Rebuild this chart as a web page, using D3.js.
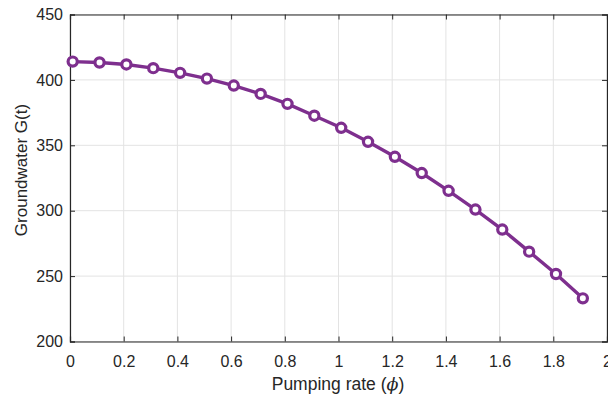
<!DOCTYPE html>
<html><head><meta charset="utf-8">
<script src="https://cdn.jsdelivr.net/npm/d3@7"></script>
<style>body{margin:0;background:#fff;}svg{display:block;font-family:"Liberation Sans",Arial,sans-serif;}</style>
</head><body><svg id="c" width="608" height="398"></svg>
<script>
const pumpRate = [0.01,0.11,0.21,0.31,0.41,0.51,0.61,0.71,0.81,0.91,1.01,1.11,1.21,1.31,1.41,1.51,1.61,1.71,1.81,1.91];
const groundwater = [414,413.3,411.8,409,405.4,401,395.7,389.3,381.7,372.6,363.4,352.7,341.2,328.8,315.2,300.9,285.6,268.7,251.6,233];
const xTicks = [0,0.2,0.4,0.6,0.8,1,1.2,1.4,1.6,1.8,2];
const yTicks = [200,250,300,350,400,450];

const svg = d3.select("#c");
const L=70, R=607, T=14.5, B=341.5;
const x = d3.scaleLinear().domain([0,2]).range([L,R]);
const y = d3.scaleLinear().domain([200,450]).range([B,T]);
const grid = svg.append("g");
grid.selectAll(".gx").data(xTicks).enter().append("line")
  .attr("x1",d=>x(d)).attr("x2",d=>x(d)).attr("y1",T).attr("y2",B)
  .attr("stroke","#e3e3e3").attr("stroke-width",1);
grid.selectAll(".gy").data(yTicks).enter().append("line")
  .attr("y1",d=>y(d)).attr("y2",d=>y(d)).attr("x1",L).attr("x2",R)
  .attr("stroke","#e3e3e3").attr("stroke-width",1);

const tickFont = g => g.selectAll("text").attr("font-size",16).attr("fill","#262626").attr("font-family","Liberation Sans, Arial, sans-serif");
const xAx = svg.append("g").attr("transform",`translate(0,${B})`)
  .call(d3.axisBottom(x).tickValues(xTicks).tickSize(-5).tickPadding(14).tickFormat(d3.format("~g")));
xAx.call(tickFont);
svg.append("g").attr("transform",`translate(0,${T})`)
  .call(d3.axisTop(x).tickValues(xTicks).tickSize(-5).tickFormat(""));
const yAx = svg.append("g").attr("transform",`translate(${L},0)`)
  .call(d3.axisLeft(y).tickValues(yTicks).tickSize(-5).tickPadding(7));
yAx.call(tickFont);
svg.append("g").attr("transform",`translate(${R},0)`)
  .call(d3.axisRight(y).tickValues(yTicks).tickSize(-5).tickFormat(""));
svg.selectAll(".domain").attr("stroke","#262626").attr("stroke-width",1.2);
svg.selectAll(".tick line").attr("stroke","#262626");

const col = "#7E2F8E";
const pts = pumpRate.map((p,i)=>[p,groundwater[i]]);
svg.append("path").datum(pts)
  .attr("d", d3.line().x(d=>x(d[0])).y(d=>y(d[1])))
  .attr("fill","none").attr("stroke",col).attr("stroke-width",3.4);
svg.selectAll(".m").data(pts).enter().append("circle")
  .attr("cx",d=>x(d[0])).attr("cy",d=>y(d[1])).attr("r",4.6)
  .attr("fill","#fff").attr("stroke",col).attr("stroke-width",3.2);

svg.append("text").attr("x",338).attr("y",390).attr("text-anchor","middle")
  .attr("font-size",17.5).attr("fill","#262626")
  .html('Pumping rate (<tspan font-style="italic" font-family="DejaVu Serif">ϕ</tspan>)');
svg.append("text").attr("transform",`translate(27,170) rotate(-90)`).attr("text-anchor","middle")
  .attr("font-size",17).attr("fill","#262626").text("Groundwater G(t)");
</script></body></html>
